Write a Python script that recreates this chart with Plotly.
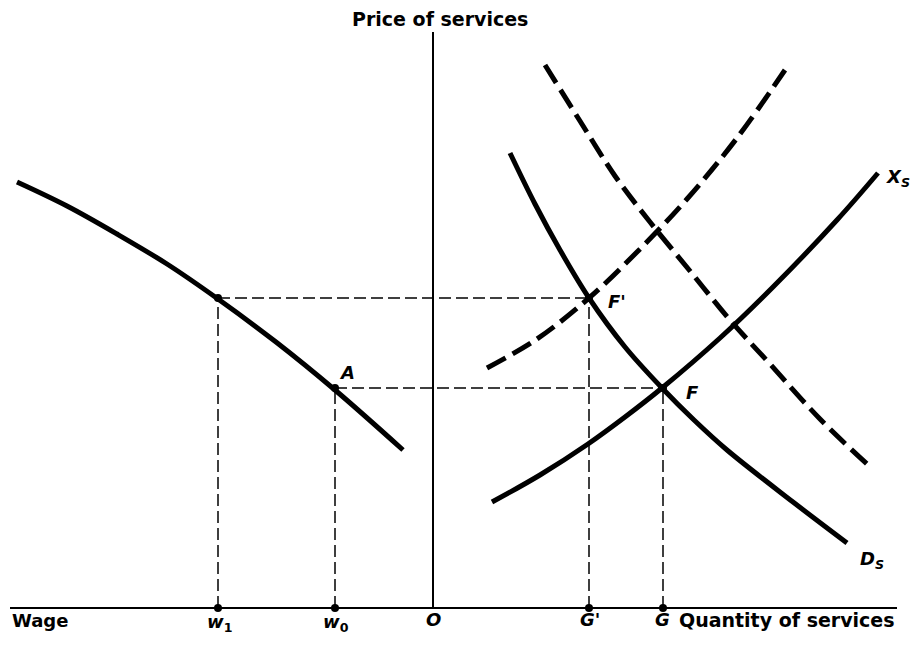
import plotly.graph_objects as go

# ---------------- data (economic units; O = origin) ----------------
# Left quadrant: wage (to the left, negative) vs price of services
wage_curve_x = [-41.6, -36.6, -31.6, -26.6, -21.5, -15.7, -9.8, -3.0]
wage_curve_y = [42.6, 40.2, 37.4, 34.4, 30.9, 26.6, 21.8, 15.8]

# Demand for services D_S
ds_x = [7.7, 10.2, 12.7, 15.6, 19.2, 22.9, 26.1, 29.4, 36.0, 41.4]
ds_y = [45.5, 40.4, 35.8, 31.0, 26.1, 22.0, 18.8, 15.8, 10.6, 6.5]

# Supply of services X_S
xs_x = [5.9, 10.7, 15.5, 19.2, 22.9, 28.7, 34.0, 40.4, 44.5]
xs_y = [10.6, 13.3, 16.4, 19.1, 22.0, 27.0, 32.1, 38.8, 43.5]

# Shifted (dashed) supply
xs2_x = [5.4, 10.4, 15.6, 20.4, 25.4, 30.4, 35.2]
xs2_y = [24.0, 26.9, 31.0, 35.6, 40.9, 47.0, 53.8]

# Shifted (dashed) demand
ds2_x = [11.2, 14.7, 18.2, 21.7, 25.7, 29.7, 33.7, 38.7, 43.4]
ds2_y = [54.3, 48.7, 43.2, 38.6, 33.7, 28.8, 24.4, 18.9, 14.4]

# Equilibrium values
w1, w0 = -21.5, -9.8
G_prime, G = 15.6, 23.0
P1, P0 = 31.0, 22.0

# Axis extents
Q_LEFT, Q_RIGHT = -42.3, 46.4
P_TOP = 57.6

# ---------------- figure ----------------
BLACK = "#000000"
fig = go.Figure()

# axes
fig.add_trace(go.Scatter(x=[Q_LEFT, Q_RIGHT], y=[0, 0], mode="lines",
                         line=dict(color=BLACK, width=2.2), hoverinfo="skip"))
fig.add_trace(go.Scatter(x=[0, 0], y=[0, P_TOP], mode="lines",
                         line=dict(color=BLACK, width=2), hoverinfo="skip"))

# thin dashed guide lines
guide = dict(color=BLACK, width=1.5, dash="12px,5px")
for (xa, ya, xb, yb) in [
    (w1, P1, G_prime, P1),
    (w0, P0, G, P0),
    (w1, 0, w1, P1),
    (w0, 0, w0, P0),
    (G_prime, 0, G_prime, P1),
    (G, 0, G, P0),
]:
    fig.add_trace(go.Scatter(x=[xa, xb], y=[ya, yb], mode="lines", line=guide,
                             hoverinfo="skip"))

# curves
solid = dict(color=BLACK, width=5, shape="spline", smoothing=1.0)
dashed = dict(color=BLACK, width=5, shape="spline", smoothing=1.0, dash="21px,8px")
fig.add_trace(go.Scatter(x=wage_curve_x, y=wage_curve_y, mode="lines", line=solid))
fig.add_trace(go.Scatter(x=ds_x, y=ds_y, mode="lines", line=solid))
fig.add_trace(go.Scatter(x=xs_x, y=xs_y, mode="lines", line=solid))
fig.add_trace(go.Scatter(x=xs2_x, y=xs2_y, mode="lines", line=dashed))
fig.add_trace(go.Scatter(x=ds2_x, y=ds2_y, mode="lines", line=dashed))

# dots
fig.add_trace(go.Scatter(
    x=[w1, w0, G_prime, G, w1, w0, G_prime, G],
    y=[0, 0, 0, 0, P1, P0, P1, P0],
    mode="markers", marker=dict(color=BLACK, size=8)))

FONT = "DejaVu Sans"
def lab(text, x, y, xanchor="center", size=18):
    fig.add_annotation(x=x, y=y, text=text, showarrow=False, xanchor=xanchor,
                       yanchor="middle", font=dict(family=FONT, size=size, color=BLACK))

lab("<b>Price of services</b>", 0.7, 58.9, size=19)
lab("<b>Wage</b>", Q_LEFT, -1.2, xanchor="left")
lab("<b>Quantity of services</b>", 24.4, -1.2, xanchor="left", size=19)
lab("<b><i>w</i><sub>1</sub></b>", w1 + 0.1, -1.5)
lab("<b><i>w</i><sub>0</sub></b>", w0 + 0.1, -1.5)
lab("<b><i>O</i></b>", 0.0, -1.1)
lab("<b><i>G'</i></b>", G_prime + 0.1, -1.1)
lab("<b><i>G</i></b>", G - 0.1, -1.1)
lab("<b><i>A</i></b>", w0 + 1.2, P0 + 1.6)
lab("<b><i>F'</i></b>", G_prime + 2.8, P1 - 0.3)
lab("<b><i>F</i></b>", G + 2.9, P0 - 0.4)
lab("<b><i>X<sub>S</sub></i></b>", 45.1, 43.0, xanchor="left")
lab("<b><i>D<sub>S</sub></i></b>", 42.5, 4.8, xanchor="left")

fig.update_layout(
    width=915, height=645,
    margin=dict(l=0, r=0, t=0, b=0),
    paper_bgcolor="white", plot_bgcolor="white",
    showlegend=False,
    xaxis=dict(range=[-43.3, 48.2], visible=False, fixedrange=True),
    yaxis=dict(range=[-3.7, 60.8], visible=False, fixedrange=True),
)

fig.write_html("out.html", config={"displayModeBar": False},
               post_script="document.body.style.margin='0';")
